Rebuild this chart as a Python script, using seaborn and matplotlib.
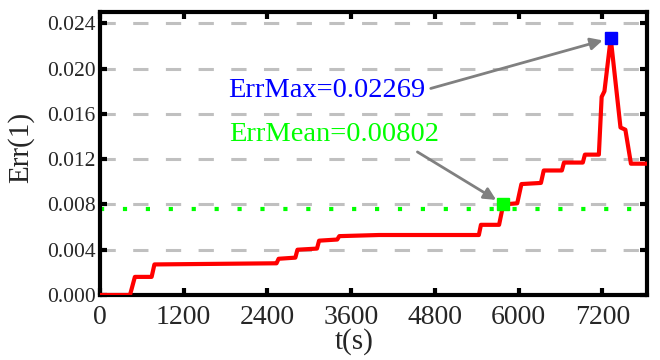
import numpy as np
import pandas as pd
import matplotlib
matplotlib.use("Agg")
import matplotlib.pyplot as plt
import seaborn as sns

# ---- data ----
t_s = [0, 430, 500, 740, 780, 2500, 2530, 2560, 2800, 2830, 3110, 3140, 3400, 3430,
       4000, 5430, 5460, 5720, 5780, 5980, 6040, 6320, 6360, 6620, 6650, 6920, 6950,
       7150, 7190, 7230, 7320, 7460, 7530, 7610, 7840]
err = [0.0000, 0.0000, 0.0016, 0.0016, 0.0027, 0.0028, 0.0028, 0.0032, 0.0033, 0.0040,
       0.0041, 0.0048, 0.0049, 0.0052, 0.0053, 0.0053, 0.0062, 0.0062, 0.0080, 0.0081,
       0.0098, 0.0099, 0.0110, 0.0110, 0.0117, 0.0117, 0.0124, 0.0124, 0.0175, 0.0180,
       0.02269, 0.0148, 0.0146, 0.0116, 0.0116]
max_point = (7320, 0.02269)
mean_point = (5780, 0.00802)
mean_line_value = 0.0076
max_label = "ErrMax=0.02269"
mean_label = "ErrMean=0.00802"
x_ticks = [0, 1200, 2400, 3600, 4800, 6000, 7200]
y_ticks = [0.000, 0.004, 0.008, 0.012, 0.016, 0.020, 0.024]

df = pd.DataFrame({"t": t_s, "err": err})

sns.set_style("ticks")
plt.rcParams["font.family"] = ["Liberation Serif", "DejaVu Serif"]

fig = plt.figure(figsize=(6.6, 3.6), dpi=100)
ax = fig.add_axes([100 / 660, 1 - 295 / 360, 547 / 660, 283 / 360])

# grid lines (horizontal, gray dashed)
for yv in y_ticks:
    ax.axhline(yv, color="#C0C0C0", lw=2.2, ls=(0, (5, 5.7)), zorder=0.5)

# mean dotted line
ax.axhline(mean_line_value, color="#00FF00", lw=3, ls=(0, (1, 4.5)), zorder=1)

sns.lineplot(data=df, x="t", y="err", color="red", lw=3, ax=ax, zorder=3)

ax.plot([max_point[0]], [max_point[1]], marker="s", ms=8.5, color="#0000FF",
        ls="none", zorder=4)
ax.plot([mean_point[0]], [mean_point[1]], marker="s", ms=8.5, color="#00FF00",
        ls="none", zorder=4)

arrow_kw = dict(arrowstyle="-|>", color="#808080", lw=2, mutation_scale=18,
                shrinkA=2, shrinkB=6)
ax.annotate(max_label, xy=max_point, xytext=(1830, 0.0181), color="#0000FF",
            fontsize=20.5, ha="left", va="center",
            arrowprops=dict(relpos=(1.0, 0.5), **arrow_kw), zorder=5)
ax.annotate(mean_label, xy=mean_point, xytext=(1850, 0.01416), color="#00FF00",
            fontsize=20.5, ha="left", va="center",
            arrowprops=dict(relpos=(0.86, 0.0), **arrow_kw), zorder=5)

ax.set_xlim(0, 7840)
ax.set_ylim(0, 0.025)
ax.set_xticks(x_ticks)
ax.set_xticklabels([str(v) for v in x_ticks])
ax.set_yticks(y_ticks)
ax.set_yticklabels([f"{v:.3f}" for v in y_ticks])
ax.tick_params(axis="x", labelsize=20, pad=7)
ax.tick_params(axis="y", labelsize=15.5, pad=3)
ax.tick_params(direction="in", length=5, width=3, top=True, right=True, color="black")
for s in ax.spines.values():
    s.set_linewidth(3)
    s.set_color("black")
ax.set_xlabel("t(s)", fontsize=21)
ax.set_ylabel("Err(1)", fontsize=21)
ax.xaxis.set_label_coords(0.464, -0.117)
ax.yaxis.set_label_coords(-0.12, 0.52)

fig.savefig("out.png", dpi=100)
